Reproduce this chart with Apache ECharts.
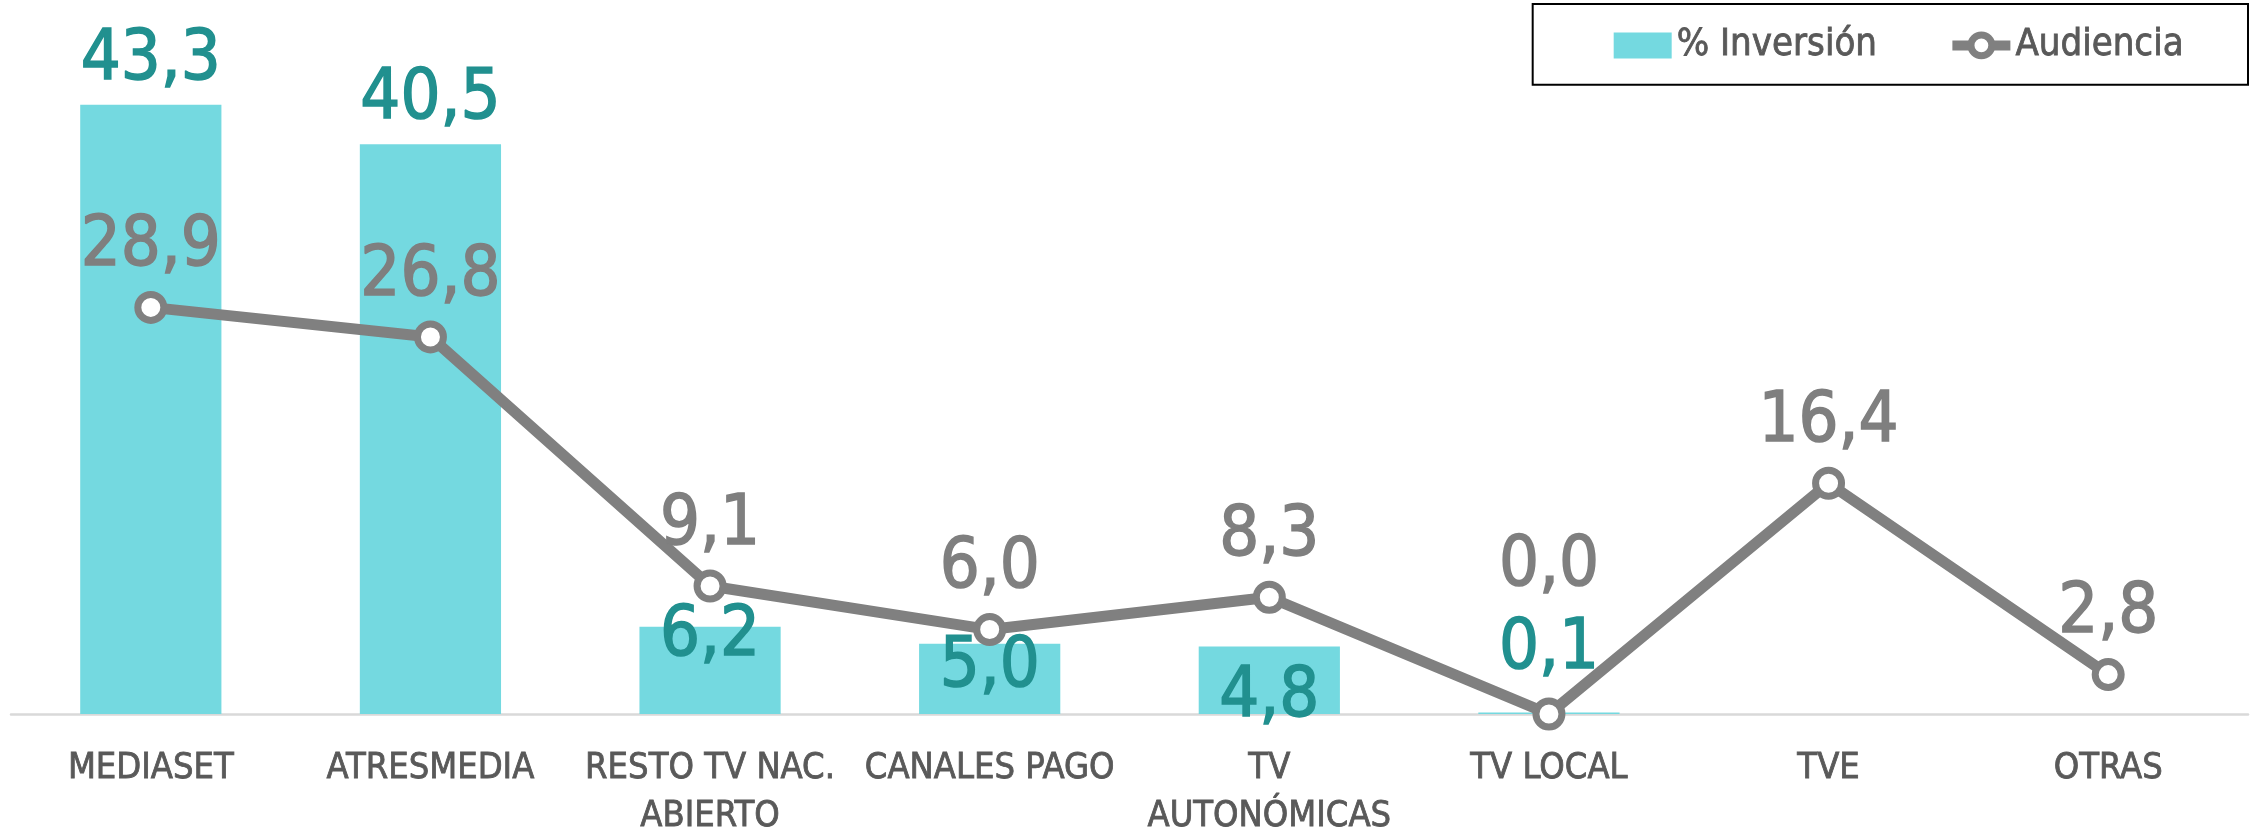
<!DOCTYPE html>
<html>
<head>
<meta charset="utf-8">
<script src="https://cdn.jsdelivr.net/npm/echarts@6/dist/echarts.min.js"></script>
<style>
  html, body { margin: 0; padding: 0; background: #fff; }
  #chart { width: 2262px; height: 835px; }
</style>
</head>
<body>
<div id="chart"></div>
<script>
var categories = ['MEDIASET', 'ATRESMEDIA', 'RESTO TV NAC.\nABIERTO', 'CANALES PAGO', 'TV\nAUTONÓMICAS', 'TV LOCAL', 'TVE', 'OTRAS'];
var inversion = [43.3, 40.5, 6.2, 5.0, 4.8, 0.1, null, null];
var audiencia = [28.9, 26.8, 9.1, 6.0, 8.3, 0.0, 16.4, 2.8];

// label nudges (px), as placed by hand in the original
var invOffset = [0, 0, 54, 68, 95, -19, 0, 0];
var audOffset = [0, 0, 0, 0, 0, -87, 0, 0];

var numFont = '"DejaVu Sans Condensed", "DejaVu Sans", sans-serif';

function coma(p) {
  return p.value == null ? '' : p.value.toFixed(1).replace('.', ',');
}

var invData = [];
for (var i = 0; i < inversion.length; i++) {
  invData.push({ value: inversion[i], label: { offset: [0, invOffset[i]] } });
}
var audData = [];
for (var i = 0; i < audiencia.length; i++) {
  audData.push({ value: audiencia[i], label: { offset: [0, audOffset[i]] } });
}

var chart = echarts.init(document.getElementById('chart'));
chart.setOption({
  backgroundColor: '#fff',
  animation: false,
  grid: { left: 11, right: 14, top: 10.5, bottom: 121, containLabel: false, outerBoundsMode: 'none' },
  legend: {
    right: 14,
    top: 4,
    padding: [22, 64, 20, 81],
    itemGap: 70,
    itemWidth: 58,
    itemHeight: 26,
    borderColor: '#000',
    borderWidth: 2,
    textStyle: { color: '#595959', fontSize: 38, fontFamily: numFont, textBorderColor: '#595959', textBorderWidth: 0.8 },
    data: [
      { name: '% Inversión', icon: 'rect' },
      { name: 'Audiencia', itemStyle: { borderWidth: 7 }, lineStyle: { width: 10 } }
    ]
  },
  xAxis: {
    type: 'category',
    data: categories,
    axisTick: { show: false },
    axisLine: { lineStyle: { color: '#d9d9d9', width: 2.5 } },
    axisLabel: {
      color: '#595959', fontSize: 36, fontFamily: numFont, lineHeight: 48, margin: 31, interval: 0,
      textBorderColor: '#595959', textBorderWidth: 0.8
    }
  },
  yAxis: {
    type: 'value',
    min: 0,
    max: 50,
    show: false,
    splitLine: { show: false }
  },
  series: [
    {
      name: '% Inversión',
      type: 'bar',
      data: invData,
      barWidth: '50.5%',
      itemStyle: { color: '#74d9e0' },
      label: {
        show: true,
        position: 'top',
        distance: 9,
        color: '#21908f',
        fontSize: 70,
        fontFamily: numFont,
        textBorderColor: '#21908f',
        textBorderWidth: 1.5,
        formatter: coma
      }
    },
    {
      name: 'Audiencia',
      type: 'line',
      z: 3,
      data: audData,
      symbol: 'circle',
      symbolSize: 26,
      lineStyle: { color: '#808080', width: 11 },
      itemStyle: { color: '#fff', borderColor: '#808080', borderWidth: 7 },
      label: {
        show: true,
        position: 'top',
        distance: 9,
        color: '#7f7f7f',
        fontSize: 70,
        fontFamily: numFont,
        textBorderColor: '#7f7f7f',
        textBorderWidth: 1.5,
        formatter: coma
      }
    }
  ]
});
</script>
</body>
</html>
